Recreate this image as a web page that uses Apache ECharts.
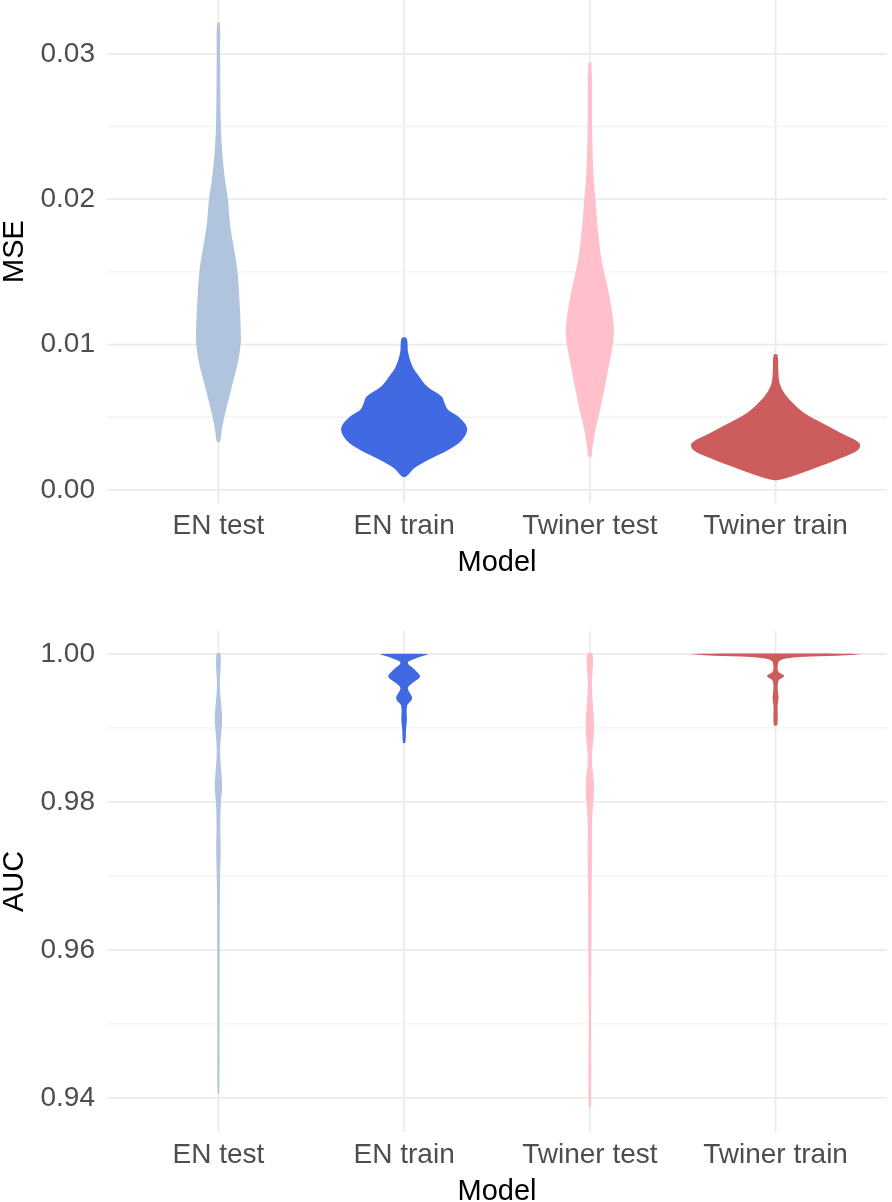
<!DOCTYPE html>
<html>
<head>
<meta charset="utf-8">
<script src="https://cdn.jsdelivr.net/npm/echarts@6/dist/echarts.min.js"></script>
<style>
html,body{margin:0;padding:0;background:#fff;}
#chart{width:892px;height:1202px;}
</style>
</head>
<body>
<div id="chart"></div>
<script>
// ---------- categories & ticks ----------
const categories = ['EN test', 'EN train', 'Twiner test', 'Twiner train'];
const colors = ['#B0C4DE', '#4169E1', '#FFC0CB', '#CD5C5C'];
const mseMajorTicks = [0, 0.01, 0.02, 0.03];
const mseMinorTicks = [0.005, 0.015, 0.025];
const aucMajorTicks = [0.94, 0.96, 0.98, 1.00];
const aucMinorTicks = [0.95, 0.97, 0.99];

// ---------- MSE violins: y values and half widths (category units) ----------
const mseEnTestY = [0.03211, 0.0300, 0.0250, 0.0227, 0.0211, 0.0200, 0.0181, 0.0170, 0.0151, 0.0124, 0.01055, 0.0101, 0.00895, 0.0078, 0.00665, 0.00505, 0.00413, 0.00332];
const mseEnTestW = [0.007, 0.009, 0.013, 0.024, 0.038, 0.051, 0.064, 0.078, 0.102, 0.116, 0.121, 0.120, 0.108, 0.086, 0.063, 0.032, 0.018, 0.008];

const mseEnTrainY = [0.01044, 0.00941, 0.00849, 0.00780, 0.00711, 0.00642, 0.00585, 0.00550, 0.00505, 0.00424, 0.00344, 0.00275, 0.00206, 0.00149, 0.00092];
const mseEnTrainW = [0.013, 0.022, 0.045, 0.081, 0.124, 0.202, 0.221, 0.237, 0.291, 0.339, 0.312, 0.237, 0.129, 0.054, 0.011];

const mseTwTestY = [0.02936, 0.0250, 0.02156, 0.0200, 0.0181, 0.01583, 0.01353, 0.01124, 0.0101, 0.00872, 0.00711, 0.0055, 0.00413, 0.00298, 0.00229];
const mseTwTestW = [0.008, 0.012, 0.020, 0.030, 0.042, 0.063, 0.102, 0.129, 0.125, 0.105, 0.081, 0.055, 0.030, 0.015, 0.008];

const mseTwTrainY = [0.00929, 0.00810, 0.00734, 0.00665, 0.00597, 0.00528, 0.00459, 0.0039, 0.00321, 0.00275, 0.00218, 0.00149, 0.00092, 0.00069];
const mseTwTrainW = [0.010, 0.015, 0.022, 0.048, 0.094, 0.156, 0.253, 0.355, 0.452, 0.444, 0.350, 0.210, 0.086, 0.016];

// ---------- AUC violins ----------
const aucEnTestY = [1.0, 0.99558, 0.99288, 0.99108, 0.98883, 0.98658, 0.98388, 0.98207, 0.97982, 0.97667, 0.97351, 0.96855, 0.95955, 0.95054, 0.94063];
const aucEnTestW = [0.011, 0.008, 0.016, 0.020, 0.013, 0.009, 0.016, 0.020, 0.013, 0.010, 0.012, 0.008, 0.0065, 0.0055, 0.004];

const aucEnTrainY = [1.0, 0.99986, 0.99942, 0.99882, 0.99784, 0.99693, 0.99604, 0.99536, 0.99401, 0.99297, 0.99108, 0.98973, 0.98801];
const aucEnTrainW = [0.128, 0.118, 0.065, 0.020, 0.059, 0.085, 0.043, 0.020, 0.043, 0.016, 0.015, 0.010, 0.006];

const aucTwTestY = [1.0, 0.99558, 0.99018, 0.98568, 0.98207, 0.97757, 0.97306, 0.96855, 0.95955, 0.95054, 0.93882];
const aucTwTestW = [0.015, 0.011, 0.023, 0.011, 0.023, 0.012, 0.012, 0.010, 0.008, 0.0065, 0.0055];

const aucTwTrainY = [1.0, 0.99982, 0.99964, 0.99942, 0.99909, 0.99851, 0.99761, 0.99703, 0.99639, 0.99513, 0.99415, 0.99288, 0.99041];
const aucTwTrainW = [0.456, 0.377, 0.19, 0.065, 0.022, 0.012, 0.016, 0.046, 0.016, 0.012, 0.016, 0.011, 0.009];

const mseViolins = [[mseEnTestY, mseEnTestW], [mseEnTrainY, mseEnTrainW], [mseTwTestY, mseTwTestW], [mseTwTrainY, mseTwTrainW]];
const aucViolins = [[aucEnTestY, aucEnTestW], [aucEnTrainY, aucEnTrainW], [aucTwTestY, aucTwTestW], [aucTwTrainY, aucTwTrainW]];

const FONT = 'Liberation Sans, Arial, Helvetica, sans-serif';
const GRID_MAJOR = '#EBEBEB';
const GRID_MINOR = '#F2F2F2';

function violinSeries(gi, idx, ys, ws) {
  return {
    type: 'custom',
    xAxisIndex: gi, yAxisIndex: gi,
    z: 3,
    silent: true,
    animation: false,
    clip: false,
    data: [[idx + 1, ys[0]]],
    encode: { x: 0, y: 1 },
    renderItem: function (params, api) {
      const cx = idx + 1;
      const pts = [];
      for (let i = 0; i < ys.length; i++) pts.push(api.coord([cx + ws[i], ys[i]]));
      for (let i = ys.length - 1; i >= 0; i--) pts.push(api.coord([cx - ws[i], ys[i]]));
      return {
        type: 'polygon',
        shape: { points: pts, smooth: 0.35 },
        style: { fill: colors[idx], stroke: null }
      };
    }
  };
}

function gridSeries(gi, hMajor, hMinor) {
  // items: [kind, value] ; kind 0 = vertical major (category), 1 = horizontal major, 2 = horizontal minor
  const data = [];
  categories.forEach((c, i) => data.push([0, i + 1]));
  hMajor.forEach(v => data.push([1, v]));
  hMinor.forEach(v => data.push([2, v]));
  return {
    type: 'custom',
    xAxisIndex: gi, yAxisIndex: gi,
    z: 1,
    silent: true,
    animation: false,
    data: data,
    encode: { x: -1, y: -1 },
    renderItem: function (params, api) {
      const cs = params.coordSys;
      const kind = api.value(0), v = api.value(1);
      let shape;
      if (kind === 0) {
        const x = api.coord([v, 0.5])[0];
        shape = { x1: x, y1: cs.y, x2: x, y2: cs.y + cs.height };
      } else {
        const y = api.coord([1, v])[1];
        shape = { x1: cs.x, y1: y, x2: cs.x + cs.width, y2: y };
      }
      return {
        type: 'line',
        shape: shape,
        style: { stroke: kind === 2 ? GRID_MINOR : GRID_MAJOR, lineWidth: kind === 2 ? 1.3 : 1.8 }
      };
    }
  };
}

function xAxisCfg(gi) {
  return {
    type: 'value', gridIndex: gi, min: 0.4, max: 4.6,
    axisLine: { show: false }, axisTick: { show: false }, splitLine: { show: false },
    axisLabel: {
      customValues: [1, 2, 3, 4],
      formatter: v => categories[Math.round(v) - 1] || '',
      color: '#4D4D4D', fontSize: 28, fontFamily: FONT, margin: 9
    },
    name: 'Model', nameLocation: 'middle', nameGap: 45,
    nameTextStyle: { color: '#000', fontSize: 29, fontFamily: FONT }
  };
}

function yAxisCfg(gi, min, max, ticks, name) {
  return {
    type: 'value', gridIndex: gi, min: min, max: max,
    axisLine: { show: false }, axisTick: { show: false }, splitLine: { show: false },
    axisLabel: {
      customValues: ticks,
      formatter: v => v.toFixed(2),
      color: '#4D4D4D', fontSize: 28, fontFamily: FONT, margin: 12
    },
    name: name, nameLocation: 'middle', nameRotate: 90, nameGap: 73,
    nameTextStyle: { color: '#000', fontSize: 29, fontFamily: FONT }
  };
}

const series = [gridSeries(0, mseMajorTicks, mseMinorTicks), gridSeries(1, aucMajorTicks, aucMinorTicks)];
mseViolins.forEach((v, i) => series.push(violinSeries(0, i, v[0], v[1])));
aucViolins.forEach((v, i) => series.push(violinSeries(1, i, v[0], v[1])));

const chart = echarts.init(document.getElementById('chart'), null, { renderer: 'canvas' });
chart.setOption({
  backgroundColor: '#fff',
  animation: false,
  grid: [
    { left: 107, right: 5, top: 0, height: 503, containLabel: false, outerBoundsMode: 'none' },
    { left: 107, right: 5, top: 631, height: 501, containLabel: false, outerBoundsMode: 'none' }
  ],
  xAxis: [xAxisCfg(0), xAxisCfg(1)],
  yAxis: [
    yAxisCfg(0, -0.0009, 0.0337, mseMajorTicks, 'MSE'),
    yAxisCfg(1, 0.9354, 1.0031, aucMajorTicks, 'AUC')
  ],
  series: series
});
</script>
</body>
</html>
